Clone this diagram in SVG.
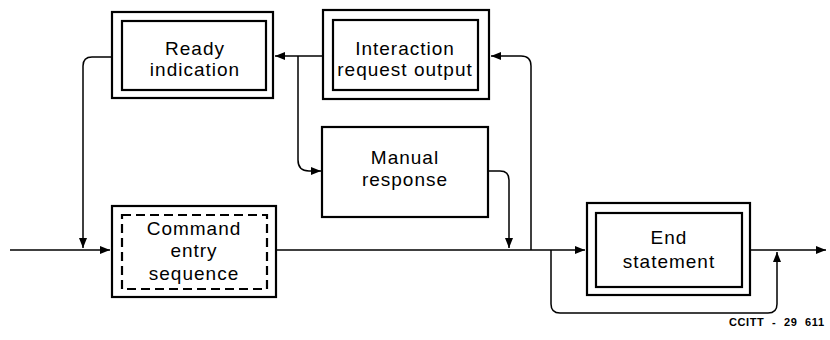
<svg xmlns="http://www.w3.org/2000/svg" width="830" height="340" viewBox="0 0 830 340">
<style>
.box{fill:none;stroke:#000;stroke-width:2.2}
.dash{fill:none;stroke:#000;stroke-width:2.2;stroke-dasharray:9,5}
.ln{fill:none;stroke:#000;stroke-width:1.5}
.t{font-family:"Liberation Sans",Arial,sans-serif;font-size:19px;letter-spacing:1px;text-anchor:middle;fill:#000}
.cap{font-family:"Liberation Sans",Arial,sans-serif;font-size:11px;font-weight:bold;letter-spacing:0.6px;word-spacing:4px;fill:#000}
</style>
<defs>
<marker id="ah" viewBox="0 0 10 8" refX="10" refY="4" markerWidth="10" markerHeight="8" markerUnits="userSpaceOnUse" orient="auto">
<path d="M0,0 L10,4 L0,8 z" fill="#000"/>
</marker>
</defs>
<rect width="830" height="340" fill="#fff"/>
<g id="ready">
<rect class="box" x="112" y="12" width="161" height="86"/>
<rect class="box" x="122" y="21" width="144" height="69"/>
<text class="t" x="195" y="55">Ready</text>
<text class="t" x="195" y="76">indication</text>
</g>
<g id="interaction">
<rect class="box" x="323" y="10" width="166" height="89"/>
<rect class="box" x="333" y="20" width="145" height="70"/>
<text class="t" x="405" y="55">Interaction</text>
<text class="t" x="405" y="76">request output</text>
</g>
<g id="manual">
<rect class="box" x="322" y="127" width="166" height="90"/>
<text class="t" x="405" y="164">Manual</text>
<text class="t" x="405" y="186">response</text>
</g>
<g id="command">
<rect class="box" x="112" y="206" width="164" height="91"/>
<rect class="dash" x="122" y="215" width="145" height="74"/>
<text class="t" x="194" y="235">Command</text>
<text class="t" x="194" y="257">entry</text>
<text class="t" x="194" y="280">sequence</text>
</g>
<g id="end">
<rect class="box" x="587" y="203" width="163" height="92"/>
<rect class="box" x="596" y="213" width="146" height="74"/>
<text class="t" x="669" y="244">End</text>
<text class="t" x="669" y="268">statement</text>
</g>
<g id="connectors">
<path class="ln" d="M10,250 L110,250" marker-end="url(#ah)"/>
<path class="ln" d="M112,57 L92,57 Q83,57 83,66 L83,248" marker-end="url(#ah)"/>
<path class="ln" d="M323,56 L275,56" marker-end="url(#ah)"/>
<path class="ln" d="M298,56 L298,160 Q298,171 309,171 L321,171" marker-end="url(#ah)"/>
<path class="ln" d="M488,171 L500,171 Q509,171 509,180 L509,248" marker-end="url(#ah)"/>
<path class="ln" d="M276,250 L585,250" marker-end="url(#ah)"/>
<path class="ln" d="M531,250 L531,66 Q531,56 521,56 L491,56" marker-end="url(#ah)"/>
<path class="ln" d="M551,250 L551,304 Q551,313 560,313 L768,313 Q777,313 777,304 L777,252" marker-end="url(#ah)"/>
<path class="ln" d="M750,250 L826,250" marker-end="url(#ah)"/>
</g>
<text class="cap" x="729" y="326">CCITT - 29 611</text>
</svg>
